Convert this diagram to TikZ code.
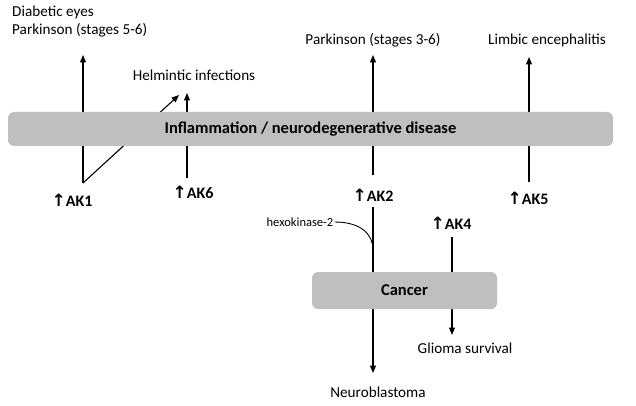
\documentclass[tikz,border=0pt]{standalone}
\usepackage{fontspec}
\setmainfont{Carlito}
\newfontfamily\symfont{DejaVu Sans}
\usetikzlibrary{arrows.meta}

\begin{document}
\begin{tikzpicture}[x=1pt,y=-1pt,
  lbl/.style={font=\fontsize{15.2}{18}\selectfont, inner sep=1pt},
  aklbl/.style={font=\fontsize{16}{18}\selectfont\bfseries, inner sep=1pt},
  boxnode/.style={fill=gray!50, rounded corners=6pt, font=\fontsize{16.5}{19}\selectfont\bfseries},
  pointer/.style={-{Triangle[length=7.5pt,width=6pt]}, line width=1.1pt},
  plain/.style={line width=0.9pt}]
\useasboundingbox (0,0) rectangle (636,406);

%outcome labels on top
\node[lbl, anchor=west] (diab) at (11,12) {Diabetic eyes};
\node[lbl, anchor=west] (park56) at (11,30) {Parkinson (stages 5-6)};
\node[lbl] (helm) at (194,75) {Helmintic infections};
\node[lbl] (park36) at (373,40) {Parkinson (stages 3-6)};
\node[lbl] (limbic) at (547,40) {Limbic encephalitis};

%the kinases
\node[aklbl] (ak1) at (72,200) {{\symfont\bfseries\fontsize{17}{18}\selectfont ↑}AK1};
\node[aklbl] (ak6) at (193,192) {{\symfont\bfseries\fontsize{17}{18}\selectfont ↑}AK6};
\node[aklbl] (ak2) at (373,195) {{\symfont\bfseries\fontsize{17}{18}\selectfont ↑}AK2};
\node[aklbl] (ak5) at (528,198) {{\symfont\bfseries\fontsize{17}{18}\selectfont ↑}AK5};
\node[aklbl] (ak4) at (451,223) {{\symfont\bfseries\fontsize{17}{18}\selectfont ↑}AK4};
\node[font=\fontsize{12.5}{14}\selectfont, inner sep=1pt] (hexo) at (300,222) {hexokinase-2};

%outcome labels at the bottom
\node[lbl] (glioma) at (465,348) {Glioma survival};
\node[lbl] (neuro) at (378,392) {Neuroblastoma};

%line ends
\coordinate (ak1foot) at (83,183);
\coordinate (ak1tip) at (83,55);
\coordinate (helmtipa) at (179,95);
\coordinate (ak6foot) at (187,178);
\coordinate (ak6tip) at (187,93);
\coordinate (ak2foot) at (373,175);
\coordinate (ak2tip) at (373,55);
\coordinate (ak2low) at (373,207);
\coordinate (neurotip) at (373,373);
\coordinate (hexojoin) at (373,250);
\coordinate (ak5foot) at (529,182);
\coordinate (ak5tip) at (529,57);
\coordinate (ak4low) at (452,237);
\coordinate (gliomatip) at (452,335);

%draw the arrows first, the boxes hide them
\draw[pointer] (ak1foot) -- (ak1tip);
\draw[pointer] (ak1foot) -- (helmtipa);
\draw[pointer] (ak6foot) -- (ak6tip);
\draw[pointer] (ak2foot) -- (ak2tip);
\draw[pointer] (ak5foot) -- (ak5tip);
\draw[pointer] (ak2low) -- (neurotip);
\draw[pointer] (ak4low) -- (gliomatip);
\draw[plain] (hexo.east) .. controls (362,222) and (373,235) .. (hexojoin);

%the two boxes
\node[boxnode, minimum width=605pt, minimum height=34pt] (inflam) at (310.5,129) {Inflammation / neurodegenerative disease};
\node[boxnode, minimum width=185pt, minimum height=37pt] (cancer) at (404.5,290.5) {Cancer};
\end{tikzpicture}
\end{document}
